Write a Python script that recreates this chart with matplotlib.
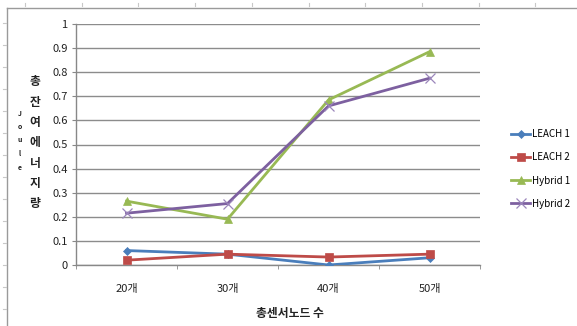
import matplotlib
matplotlib.use("Agg")
import matplotlib.pyplot as plt
from matplotlib.lines import Line2D

plt.rcParams['font.family'] = ['Noto Sans CJK KR', 'DejaVu Sans']

categories = ["20개", "30개", "40개", "50개"]
leach1 = [0.06, 0.045, 0.0, 0.03]
leach2 = [0.02, 0.045, 0.033, 0.045]
hybrid1 = [0.265, 0.19, 0.685, 0.885]
hybrid2 = [0.215, 0.255, 0.66, 0.775]
series_names = ["LEACH 1", "LEACH 2", "Hybrid 1", "Hybrid 2"]
y_ticks = [0, 0.1, 0.2, 0.3, 0.4, 0.5, 0.6, 0.7, 0.8, 0.9, 1]
y_tick_labels = ["0", "0.1", "0.2", "0.3", "0.4", "0.5", "0.6", "0.7", "0.8", "0.9", "1"]

colors = ["#4A7EBB", "#BE4B48", "#98B954", "#7D60A0"]
markers = ["D", "s", "^", "x"]
msizes = [4, 6, 6, 7]

W, H = 577, 326
fig = plt.figure(figsize=(W / 100, H / 100), dpi=100)
ax = fig.add_axes([76 / W, 1 - 265 / H, (480 - 76) / W, (265 - 24) / H])

x = list(range(len(categories)))
for vals, name, c, m, ms in zip([leach1, leach2, hybrid1, hybrid2], series_names, colors, markers, msizes):
    ax.plot(x, vals, color=c, lw=2.0, marker=m, ms=ms, mew=0.9 if m == "x" else 0.5,
            mec="#9b86bb" if m == "x" else c, mfc=c, label=name, zorder=3)

ax.set_xlim(-0.5, len(categories) - 0.5)
ax.set_ylim(0, 1)
ax.set_yticks(y_ticks)
ax.set_yticklabels(y_tick_labels)
ax.set_xticks(x)
ax.set_xticklabels(categories)
ax.set_xticks([i - 0.5 for i in range(len(categories) + 1)], minor=True)
ax.tick_params(axis='x', which='major', length=0, pad=14, labelsize=8, colors='#222222')
ax.tick_params(axis='x', which='minor', length=3, color='#888888', direction='out')
ax.tick_params(axis='y', length=3, color='#888888', direction='out', pad=3, labelsize=8,
               labelcolor='#222222')
ax.grid(axis='y', color='#8c8c8c', lw=1.0)
ax.set_axisbelow(True)
for side in ['top', 'right']:
    ax.spines[side].set_visible(False)
for side in ['left', 'bottom']:
    ax.spines[side].set_color('#888888')
    ax.spines[side].set_linewidth(1.0)

# axis titles
fig.text(290 / W, 1 - 313 / H, "총센서노드 수", ha='center', va='center', fontsize=8.5,
         fontweight='bold', color='#222222')
for i, ch in enumerate("총잔여에너지량"):
    fig.text(35 / W, 1 - (82 + i * 20.3) / H, ch, ha='center', va='center', fontsize=8.5,
             fontweight='bold', color='#222222')
for i, ch in enumerate("Joule"):
    fig.text(20 / W, 1 - (113 + i * 13.5) / H, ch, ha='center', va='center', fontsize=5,
             fontweight='bold', color='#222222')

# legend
handles = [Line2D([], [], color=c, lw=2.0, marker=m, ms=ms, mfc=c,
                  mec="#9b86bb" if m == "x" else c, mew=0.9 if m == "x" else 0.5)
           for c, m, ms in zip(colors, markers, msizes)]
fig.legend(handles, series_names, loc='center left', bbox_to_anchor=(506 / W, 1 - 169 / H),
           frameon=False, fontsize=7, handlelength=2.0, handletextpad=0.2,
           labelspacing=1.35, borderpad=0)

# outer frame
fig.add_artist(Line2D([7 / W, 7 / W], [0, 1 - 8 / H], transform=fig.transFigure,
                      color='#9a9a9a', lw=1.0))
fig.add_artist(Line2D([7 / W, 1], [1 - 8 / H, 1 - 8 / H], transform=fig.transFigure,
                      color='#9a9a9a', lw=1.0))
for tx in [25, 82, 138, 195, 252, 309, 365, 422, 479, 535]:
    fig.add_artist(Line2D([tx / W, tx / W], [1 - 3 / H, 1 - 6 / H], transform=fig.transFigure,
                          color='#c8c8c8', lw=0.8))
for ty in range(23, H, 22):
    fig.add_artist(Line2D([3 / W, 6 / W], [1 - ty / H, 1 - ty / H], transform=fig.transFigure,
                          color='#c8c8c8', lw=0.8))

fig.savefig("out.png", dpi=100)
